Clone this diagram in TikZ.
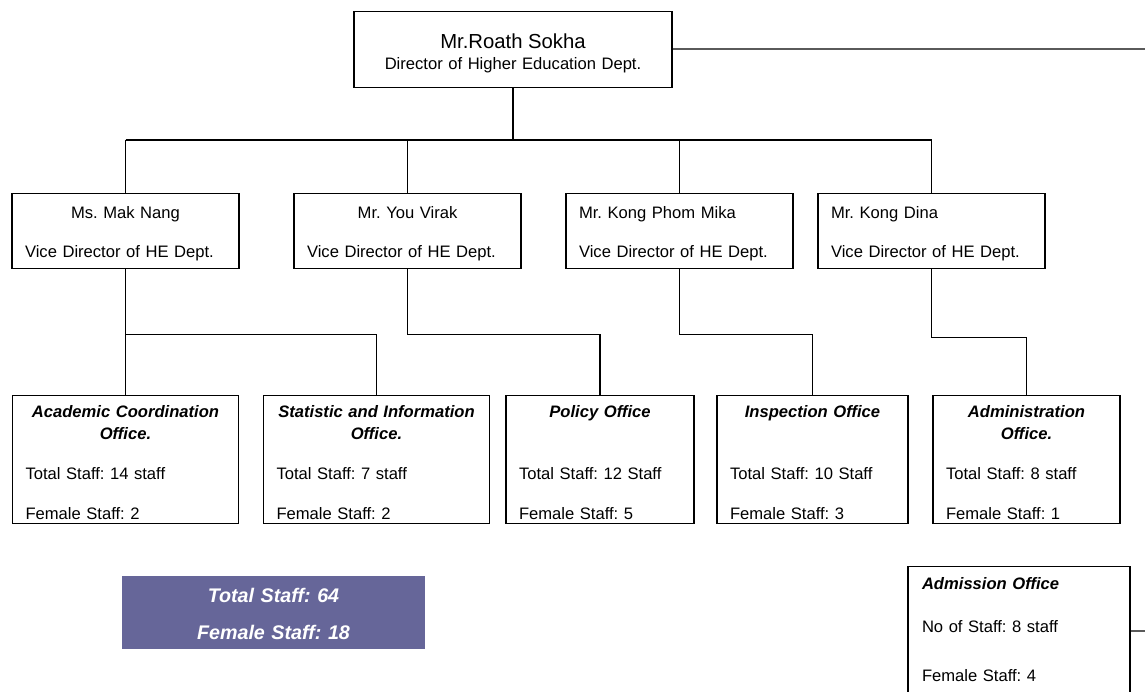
\documentclass[tikz,border=0pt]{standalone}
\usepackage{fontspec}
\setmainfont{Liberation Sans}
\usepackage{tikz}
\usetikzlibrary{calc}
\frenchspacing

\definecolor{totalfill}{HTML}{666699}
\definecolor{feedgray}{HTML}{5A5A5A}

\begin{document}
\begin{tikzpicture}[
                x=1pt, y=-1pt, % one unit per pixel, y going down
                every node/.style={inner sep=0pt, font=\fontsize{16.6}{40}\selectfont}, % Body text
                headbox/.style={draw, line width=1.3pt, anchor=north, align=center, text width=318pt, text height=37pt, text depth=39pt, font=\fontsize{16.6}{21}\selectfont},
                vicebox/.style={draw, line width=1.3pt, anchor=north, inner xsep=13pt, text width=201pt, text height=25pt, text depth=50pt, font=\fontsize{16.6}{39}\selectfont},
                officebox/.style={draw, line width=1.3pt, anchor=north, inner xsep=13pt, text width=#1, text height=22pt, text depth=106pt},
                totalbox/.style={fill=totalfill, text=white, anchor=north, align=center, text width=303pt, text height=26pt, text depth=47pt, font=\bfseries\itshape\fontsize{19.7}{37}\selectfont},
                link/.style={line width=1.3pt}, % Thin connectors
                trunk/.style={line width=2.2pt}, % Director's connector
                feed/.style={draw=feedgray, line width=2pt} % Lines leaving the page
                ]
                \useasboundingbox (0,0) rectangle (1145,692);

                % Director
                \node[headbox] (head) at (513,11) {{\fontsize{20.3}{21}\selectfont Mr.Roath Sokha}\\Director of Higher Education Dept.};

                % Vice directors
                \node[vicebox] (mak) at (125.5,193) {\centering Ms. Mak Nang\par\raggedright Vice Director of HE Dept.};
                \node[vicebox] (virak) at (407.5,193) {\centering Mr. You Virak\par\raggedright Vice Director of HE Dept.};
                \node[vicebox] (kphom) at (679.5,193) {\raggedright Mr. Kong Phom Mika\par Vice Director of HE Dept.};
                \node[vicebox] (kdina) at (931.5,193) {\raggedright Mr. Kong Dina\par Vice Director of HE Dept.};

                % Offices
                \node[officebox=200pt] (acad) at (125.5,395) {{\centering\bfseries\itshape\fontsize{16.6}{22}\selectfont Academic Coordination\\Office.\par}Total Staff: 14 staff\par Female Staff: 2};
                \node[officebox=200pt] (stat) at (376.5,395) {{\centering\bfseries\itshape\fontsize{16.6}{22}\selectfont Statistic and Information\\Office.\par}Total Staff: 7 staff\par Female Staff: 2};
                \node[officebox=162pt] (policy) at (600,395) {{\centering\bfseries\itshape\fontsize{16.6}{22}\selectfont Policy Office\\\mbox{}\par}Total Staff: 12 Staff\par Female Staff: 5};
                \node[officebox=165pt] (insp) at (812.5,395) {{\centering\bfseries\itshape\fontsize{16.6}{22}\selectfont Inspection Office\\\mbox{}\par}Total Staff: 10 Staff\par Female Staff: 3};
                \node[officebox=161pt] (admin) at (1026.5,395) {{\centering\bfseries\itshape\fontsize{16.6}{22}\selectfont Administration\\Office.\par}Total Staff: 8 staff\par Female Staff: 1};

                % Totals and admission
                \node[totalbox] (total) at (273.5,576) {Total Staff: 64\\Female Staff: 18};
                \node[officebox=194pt, inner xsep=14pt, text height=23pt, text depth=140pt, font=\fontsize{16.6}{43}\selectfont] (adm) at (1019,566) {{\bfseries\itshape Admission Office\par}No of Staff: 8 staff\par\vspace{6pt}Female Staff: 4};

                % Connectors from the director
                \coordinate (hub) at (513,140);
                \draw[trunk] (head.south) -- (hub);
                \draw[trunk] (mak.north |- hub) -- (kphom.north |- hub);
                \draw[link] (kphom.north |- hub) -- (kdina.north |- hub);
                \foreach \v in {mak,virak,kphom,kdina}
                    \draw[link] (\v.north |- hub) -- (\v.north);

                % Connectors to the offices
                \draw[link] (mak.south) -- (acad.north);
                \draw[link] (mak.south) -- ++(0,65) -| (stat.north);
                \draw[link] (virak.south) -- ++(0,65) -| (policy.north);
                \draw[link] (kphom.south) -- ++(0,65) -| (insp.north);
                \draw[link] (kdina.south) -- ++(0,68) -| (admin.north);

                % Lines running off the right edge
                \coordinate (edgetop) at (1145,49);
                \coordinate (edgelow) at (1145,631);
                \draw[feed] (head.east |- edgetop) -- (edgetop);
                \draw[feed] (adm.east |- edgelow) -- (edgelow);
            \end{tikzpicture}
\end{document}
